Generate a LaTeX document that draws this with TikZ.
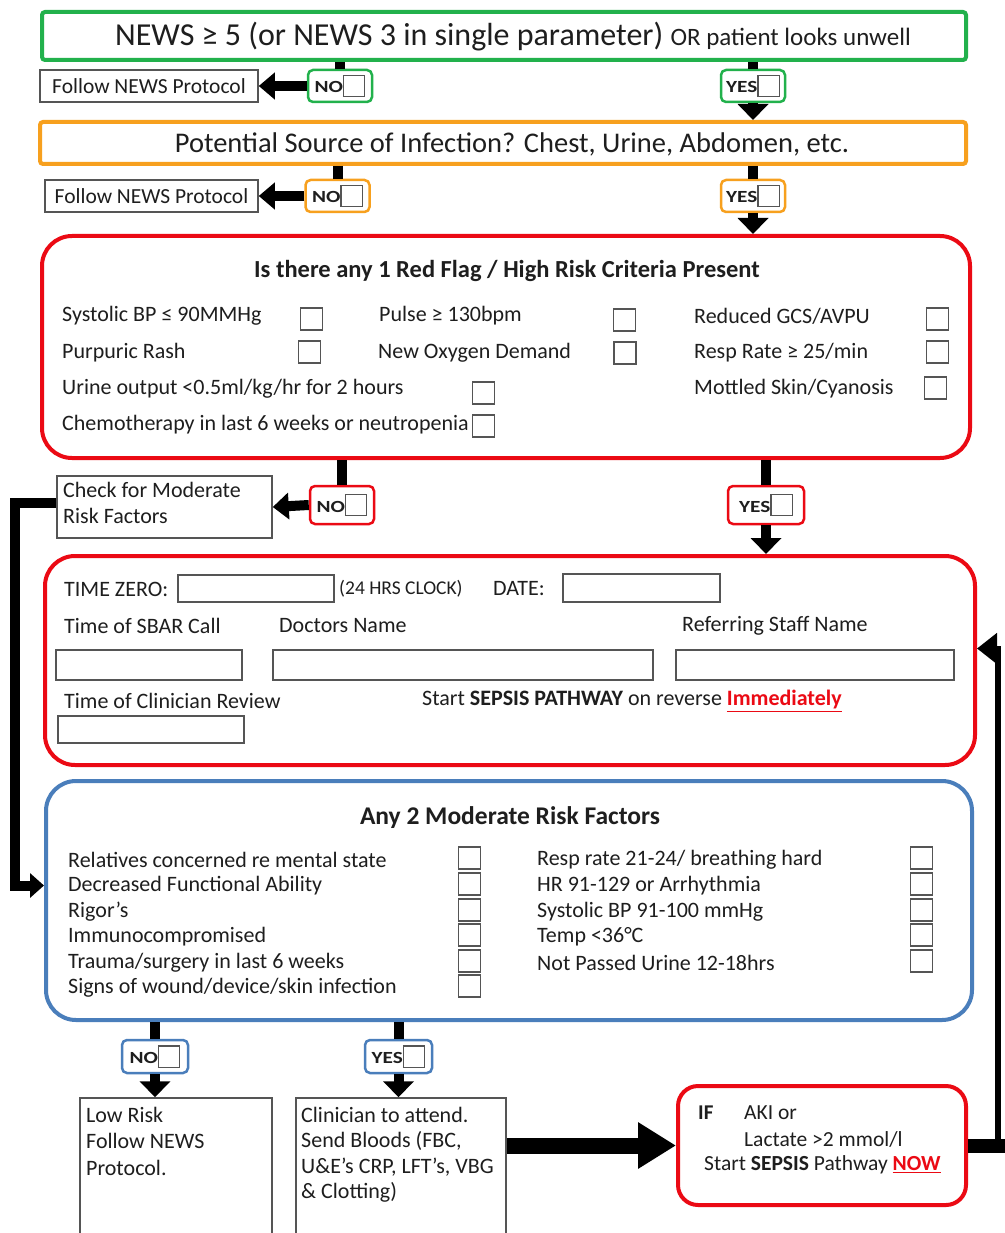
\documentclass[tikz,border=0pt]{standalone}
\usepackage{fontspec}
\usepackage{graphicx}
\setmainfont{Carlito}
\usetikzlibrary{arrows.meta}
\definecolor{gbox}{RGB}{34,177,76}
\definecolor{obox}{RGB}{247,160,30}
\definecolor{rbox}{RGB}{235,10,20}
\definecolor{bbox}{RGB}{74,126,187}
\definecolor{frame}{RGB}{85,85,85}
\definecolor{txt}{RGB}{30,30,30}
\newcommand\fsz[2]{\fontsize{#1}{#2}\selectfont}
\newcommand\chkin{{\color{frame}\setlength\fboxrule{1.3pt}\setlength\fboxsep{0pt}\fbox{\rule{0pt}{20pt}\rule{20pt}{0pt}}}}
\newcommand\yn[1]{\raisebox{3pt}{\scalebox{1.25}[1]{#1}}\chkin}
\begin{document}
\begin{tikzpicture}[x=1pt,y=-1pt,
  every node/.style={inner sep=0pt, text=txt},
  bigbox/.style={draw=#1, line width=4pt, rounded corners=3pt, fill=white},
  roundbox/.style={draw=#1, line width=4pt, rounded corners=30pt},
  plainbox/.style={draw=frame, line width=1.5pt, fill=white},
  ynbox/.style={draw=#1, line width=2.5pt, rounded corners=5pt, minimum height=32pt, minimum width=64pt, fill=white, font=\bfseries\fsz{17}{17}},
  chk/.style={draw=frame, line width=1.5pt, minimum width=22pt, minimum height=22pt},
  field/.style={draw=frame, line width=1.5pt},
  lbl/.style={anchor=west, font=\fsz{22}{24}},
  conn/.style={line width=10pt},
  harrow/.style={line width=10pt, -{Triangle[width=26pt,length=16pt]}},
  varrow/.style={line width=10pt, -{Triangle[width=30pt,length=16pt]}},
]
\fill[white] (0,0) rectangle (1004,1233);
\useasboundingbox (0,0) rectangle (1004,1233);

% ---------- NEWS box ----------
\node[bigbox=gbox, minimum width=924pt, minimum height=48pt] (green) at (504,36) {};
\node (greent) at (513,37) {\fsz{32}{34}NEWS ≥ 5 (or NEWS 3 in single parameter) \fsz{25}{28}OR patient looks unwell};
\node[plainbox, minimum width=218pt, minimum height=32pt, font=\fsz{21.5}{22}] (f1) at (149,86) {Follow NEWS Protocol};
\node[ynbox=gbox] (n1) at (340,86) {\yn{NO}};
\node[ynbox=gbox] (y1) at (753,86) {\yn{YES}};

% ---------- Source of infection ----------
\node[bigbox=obox, minimum width=926pt, minimum height=42pt] (orange) at (503,143) {};
\node[font=\fsz{28.5}{30}] (oranget) at (512,144) {Potential Source of Infection? Chest, Urine, Abdomen, etc.};
\node[plainbox, minimum width=213pt, minimum height=32pt, font=\fsz{21.5}{22}] (f2) at (151.5,196) {Follow NEWS Protocol};
\node[ynbox=obox] (n2) at (337.5,196) {\yn{NO}};
\node[ynbox=obox] (y2) at (753,196) {\yn{YES}};

\draw[conn] (green.south -| n1) -- (n1.north);
\draw[harrow] (n1.west) -- (f1.east);
\draw[conn] (green.south -| y1) -- (y1.north);
\draw[varrow] (y1.south) -- (y1.south |- orange.north);
\draw[conn] (orange.south -| n2) -- (n2.north);
\draw[harrow] (n2.west) -- (f2.east);
\draw[conn] (orange.south -| y2) -- (y2.north);

% ---------- Red flag box ----------
\node[roundbox=rbox, minimum width=928pt, minimum height=222pt] (rf) at (506,347) {};
\draw[varrow] (y2.south) -- (y2.south |- rf.north);
\node[font=\bfseries\fsz{24.5}{26}] (rft) at (507,271) {Is there any 1 Red Flag / High Risk Criteria Present};
\node[lbl] (a1) at (62,316) {Systolic BP ≤ 90MMHg};
\node[chk] (a1c) at (311.5,319) {};
\node[lbl] (a2) at (62,353) {Purpuric Rash};
\node[chk] (a2c) at (309.5,352) {};
\node[lbl] (a3) at (62,389) {Urine output <0.5ml/kg/hr for 2 hours};
\node[chk] (a3c) at (483.5,393) {};
\node[lbl] (a4) at (62,425) {Chemotherapy in last 6 weeks or neutropenia};
\node[chk] (a4c) at (483.5,426) {};
\node[lbl] (b1) at (379,316) {Pulse ≥ 130bpm};
\node[chk] (b1c) at (624.5,320) {};
\node[lbl] (b2) at (378,353) {New Oxygen Demand};
\node[chk] (b2c) at (625,353) {};
\node[lbl] (d1) at (694,316) {Reduced GCS/AVPU};
\node[chk] (d1c) at (937.5,319) {};
\node[lbl] (d2) at (694,353) {Resp Rate ≥ 25/min};
\node[chk] (d2c) at (937.5,352) {};
\node[lbl] (d3) at (694,389) {Mottled Skin/Cyanosis};
\node[chk] (d3c) at (935.5,388) {};

% ---------- below red flag ----------
\node[ynbox=rbox, minimum height=38pt] (n3) at (342,505) {\yn{NO}};
\node[ynbox=rbox, minimum height=38pt, minimum width=76pt] (y3) at (766,505) {\yn{YES}};
\node[plainbox, minimum width=215pt, minimum height=62pt] (check) at (164.5,507) {};
\node[anchor=north west, align=left, font=\fsz{22}{26}] (checkt) at (63,482) {Check for Moderate\\Risk Factors};
\draw[conn] (rf.south -| n3) -- (n3.north);
\draw[harrow] (n3.west) -- (check.east);
\draw[conn] (rf.south -| y3) -- (y3.north);

% ---------- Time zero box ----------
\node[roundbox=rbox, minimum width=930pt, minimum height=209pt] (tz) at (510,660.5) {};
\draw[varrow] (y3.south) -- (y3.south |- tz.north);
\node[lbl] (tzl) at (64,589) {TIME ZERO:};
\node[field, minimum width=156pt, minimum height=27pt] (tzf) at (256,588.5) {};
\node[lbl, font=\fsz{19.5}{22}] (clk) at (339,589) {(24 HRS CLOCK)};
\node[lbl] (datel) at (493,589) {DATE:};
\node[field, minimum width=157pt, minimum height=28pt] (datef) at (641.5,588) {};
\node[lbl] (sbarl) at (64,626) {Time of SBAR Call};
\node[lbl] (docl) at (279,626) {Doctors Name};
\node[lbl] (refl) at (682,626) {Referring Staff Name};
\node[field, minimum width=186pt, minimum height=30pt] (sbarf) at (149,665) {};
\node[field, minimum width=380pt, minimum height=30pt] (docf) at (463,665) {};
\node[field, minimum width=278pt, minimum height=30pt] (reff) at (815,665) {};
\node[lbl] (clinl) at (64,701) {Time of Clinician Review};
\node[field, minimum width=186pt, minimum height=27pt] (clinf) at (151,729.5) {};
\node[lbl] (startl) at (422,701) {Start \textbf{SEPSIS PATHWAY} on reverse \textcolor{rbox}{\underline{\textbf{Immediately}}}};

% ---------- Moderate risk box ----------
\node[roundbox=bbox, minimum width=926pt, minimum height=239pt] (mr) at (509,900.5) {};
\node[font=\bfseries\fsz{25.5}{27}] (mrt) at (510,818) {Any 2 Moderate Risk Factors};
\node[lbl] (m1) at (68,860) {Relatives concerned re mental state};
\node[chk] (m1c) at (469.5,858) {};
\node[lbl] (m2) at (68,886) {Decreased Functional Ability};
\node[chk] (m2c) at (469.5,884) {};
\node[lbl] (m3) at (68,912) {Rigor's};
\node[chk] (m3c) at (469.5,910) {};
\node[lbl] (m4) at (68,937) {Immunocompromised};
\node[chk] (m4c) at (469.5,935) {};
\node[lbl] (m5) at (68,963) {Trauma/surgery in last 6 weeks};
\node[chk] (m5c) at (469.5,961) {};
\node[lbl] (m6) at (68,988) {Signs of wound/device/skin infection};
\node[chk] (m6c) at (469.5,986) {};
\node[lbl] (r1) at (537,860) {Resp rate 21-24/ breathing hard};
\node[chk] (r1c) at (921.5,858) {};
\node[lbl] (r2) at (537,886) {HR 91-129 or Arrhythmia};
\node[chk] (r2c) at (921.5,884) {};
\node[lbl] (r3) at (537,912) {Systolic BP 91-100 mmHg};
\node[chk] (r3c) at (921.5,910) {};
\node[lbl] (r4) at (537,937) {Temp <36°C};
\node[chk] (r4c) at (921.5,935) {};
\node[lbl] (r5) at (537,963) {Not Passed Urine 12-18hrs};
\node[chk] (r5c) at (921.5,961) {};

% left loop connector
\coordinate (lx) at (15,0);
\coordinate (bin) at ([yshift=15pt]mr.west);
\draw[line width=10pt, -{Triangle[width=24pt,length=14pt]}] ([yshift=4pt]check.west) -- ([yshift=4pt]check.west -| lx) |- (bin);

% ---------- bottom row ----------
\node[ynbox=bbox, minimum height=33pt, minimum width=66pt] (n4) at (155,1056.5) {\yn{NO}};
\node[ynbox=bbox, minimum height=33pt, minimum width=67pt] (y4) at (398.5,1056.5) {\yn{YES}};
\node[plainbox, minimum width=192pt, minimum height=140pt] (low) at (176,1168) {};
\node[anchor=north west, align=left, font=\fsz{22}{26.5}] (lowt) at (86,1107) {Low Risk\\Follow NEWS\\Protocol.};
\node[plainbox, minimum width=210pt, minimum height=140pt] (clin) at (401,1168) {};
\node[anchor=north west, align=left, font=\fsz{22}{25.5}] (clint) at (301,1107) {Clinician to attend.\\Send Bloods (FBC,\\U\&E’s CRP, LFT’s, VBG\\\& Clotting)};
\draw[conn] (mr.south -| n4) -- (n4.north);
\draw[varrow] (n4.south) -- (n4.south |- low.north);
\draw[conn] (mr.south -| y4) -- (y4.north);
\draw[varrow] (y4.south) -- (y4.south |- clin.north);

\node[roundbox=rbox, rounded corners=20pt, minimum width=288pt, minimum height=119pt, fill=white] (ifbox) at (822,1145.5) {};
\node[lbl, font=\bfseries\fsz{21}{24}] (ift) at (698,1113) {IF};
\node[lbl, font=\fsz{21.5}{24}] (akit) at (744,1113) {AKI or};
\node[lbl, font=\fsz{21.5}{24}] (lact) at (744,1139) {Lactate >2 mmol/l};
\node[lbl, font=\fsz{21.5}{24}] (startt) at (704,1165) {Start \textbf{SEPSIS} Pathway \textcolor{rbox}{\underline{\textbf{NOW}}}};
\draw[line width=16pt, -{Triangle[width=44pt,length=38pt]}] (clin.east |- ifbox.west) -- (ifbox.west);

% right loop connector
\coordinate (rx) at (998,0);
\coordinate (rx2) at (1012,0);
\coordinate (r2in) at ([yshift=12pt]tz.east);
\draw[line width=14pt] (ifbox.east) -- (ifbox.east -| rx2);
\draw[line width=6pt, -{Triangle[width=30pt,length=20pt]}] (ifbox.east -| rx) |- (r2in);
\end{tikzpicture}
\end{document}
